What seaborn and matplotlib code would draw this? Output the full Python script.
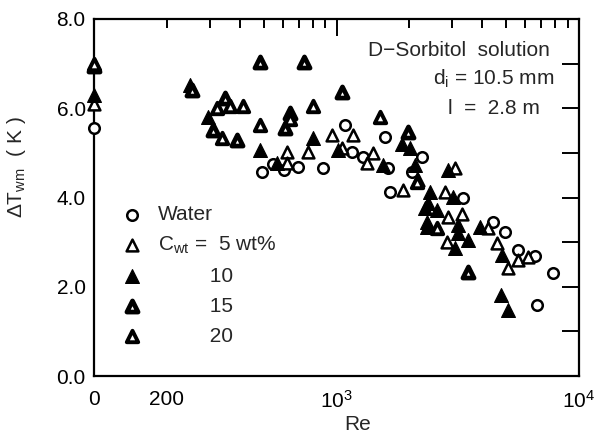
import numpy as np
import pandas as pd
import matplotlib
matplotlib.use("Agg")
import matplotlib.pyplot as plt
import seaborn as sns

# ---------------- data (Re = 0 points are drawn on the left axis edge) ----------------
water_re = [0, 491, 546, 608, 696, 880, 1084, 1155, 1290, 1635, 1585, 2245, 2042, 1662,
            3334, 4406, 4954, 5623, 6590, 7785, 6730]
water_dt = [5.55, 4.58, 4.75, 4.62, 4.69, 4.65, 5.62, 5.03, 4.91, 4.65, 5.36, 4.91, 4.58, 4.13,
            3.98, 3.46, 3.23, 2.82, 2.69, 2.31, 1.59]

c5_re = [0, 627, 765, 623, 955, 1173, 1419, 1333, 2175, 1885, 2800, 2891, 3281, 2846,
         4227, 4578, 5110, 5623, 6180, 3080, 1051]
c5_dt = [6.1, 5.03, 5.03, 4.77, 5.40, 5.40, 4.99, 4.77, 4.39, 4.17, 4.13, 3.57, 3.64, 3.01,
         3.31, 2.97, 2.43, 2.61, 2.67, 4.65, 5.10]

c10_re = [0, 249, 296, 484, 567, 802, 1017, 1857, 2009, 1560, 2430, 3033, 2391, 2317, 2588,
          2355, 2355, 3178, 3178, 3080, 3498, 3908, 4800, 4753, 5110, 2891, 2108]
c10_dt = [6.3, 6.52, 5.81, 5.06, 4.77, 5.33, 5.06, 5.21, 5.10, 4.73, 4.13, 4.02, 3.87, 3.76, 3.72,
          3.46, 3.35, 3.38, 3.20, 2.86, 3.05, 3.35, 2.71, 1.82, 1.48, 4.62, 4.73]

c15_re = [0, 253, 484, 734, 347, 309, 390, 643, 613, 1051, 1977, 3498]
c15_dt = [6.95, 6.41, 7.04, 7.04, 6.22, 5.51, 5.29, 5.89, 5.55, 6.37, 5.47, 2.34]

c20_re = [0, 321, 364, 413, 336, 484, 643, 802, 1511, 2141, 2588]
c20_dt = [7.0, 6.0, 6.05, 6.04, 5.33, 5.63, 5.75, 6.05, 5.81, 4.35, 3.31]

series_labels = ["Water", "C$_{\\rm wt}$ =  5 wt%", "         10", "         15", "         20"]

x_tick_vals = [100, 200, 1000, 10000]
x_tick_labels = ["0", "200", "$10^3$", "$10^4$"]
y_major = [0, 2, 4, 6, 8]
y_major_labels = ["0.0", "2.0", "4.0", "6.0", "8.0"]
y_minor = [1, 3, 5, 7]

RE_ZERO_POS = 100  # where Re = 0 is drawn (left edge of the log axis)

# ---------------- style ----------------
sns.set_style("white")
plt.rcParams["font.family"] = ["Liberation Sans", "DejaVu Sans"]
plt.rcParams["mathtext.fontset"] = "custom"
plt.rcParams["mathtext.rm"] = "Liberation Sans"
plt.rcParams["mathtext.it"] = "Liberation Sans:italic"
plt.rcParams["font.size"] = 15

fig = plt.figure(figsize=(5.95, 4.42), dpi=100)
ax = fig.add_axes([94 / 595, 1 - 376 / 442, (579 - 94) / 595, (376 - 19) / 442])

def prep(re, dt):
    re = np.asarray(re, float)
    return pd.DataFrame({"Re": np.where(re == 0, RE_ZERO_POS, re), "dT": dt})

common = dict(ax=ax, x="Re", y="dT", clip_on=False, zorder=3, legend=False)
sns.scatterplot(data=prep(water_re, water_dt), marker="o", s=58, facecolor="white",
                edgecolor="black", linewidth=1.8, label=series_labels[0], **common)
sns.scatterplot(data=prep(c5_re, c5_dt), marker="^", s=72, facecolor="white",
                edgecolor="black", linewidth=1.8, label=series_labels[1], **common)
sns.scatterplot(data=prep(c10_re, c10_dt), marker="^", s=100, facecolor="black",
                edgecolor="black", linewidth=0.8, label=series_labels[2], **common)
sns.scatterplot(data=prep(c15_re, c15_dt), marker="^", s=64, facecolor="white",
                edgecolor="black", linewidth=3.4, label=series_labels[3], **common)
sns.scatterplot(data=prep(c20_re, c20_dt), marker="^", s=68, facecolor="white",
                edgecolor="black", linewidth=2.8, label=series_labels[4], **common)

ax.set_xscale("log")
ax.set_xlim(100, 10000)
ax.set_ylim(0, 8)

# x ticks
ax.set_xticks([1000, 10000])
ax.set_xticklabels(x_tick_labels[2:])
minor_x = [100, 200, 300, 400, 500, 600, 700, 800, 900,
           2000, 3000, 4000, 5000, 6000, 7000, 8000, 9000]
ax.set_xticks(minor_x, minor=True)
ax.set_xticklabels([x_tick_labels[0], x_tick_labels[1]] + [""] * (len(minor_x) - 2), minor=True)

# y ticks
ax.set_yticks(y_major)
ax.set_yticklabels(y_major_labels)
ax.set_yticks(y_minor, minor=True)

ax.tick_params(axis="both", which="both", direction="in", top=True, right=True,
               width=1.4, labelsize=15, colors="black")
ax.tick_params(axis="x", which="major", length=12, pad=10)
ax.tick_params(axis="x", which="minor", length=6.5, pad=10)
ax.tick_params(axis="y", which="both", length=12, pad=6)

for sp in ax.spines.values():
    sp.set_linewidth(1.6)
    sp.set_color("black")

ax.set_xlabel("Re", fontsize=15)
ax.set_ylabel("ΔT$_{\\rm wm}$  ( K )", fontsize=15)
ax.xaxis.set_label_coords(0.544, -0.108)
ax.yaxis.set_label_coords(-0.136, 0.585)

# annotation
ax.text(0.565, 0.912, "D\u2212Sorbitol  solution", transform=ax.transAxes, ha="left", va="center", fontsize=15)
ax.text(0.699, 0.832, "d$_{\\rm i}$ = 10.5 mm", transform=ax.transAxes, ha="left", va="center", fontsize=15)
ax.text(0.730, 0.750, "l  =  2.8 m", transform=ax.transAxes, ha="left", va="center", fontsize=15)

handles, labels = ax.get_legend_handles_labels()
leg = ax.legend(handles, labels, loc="upper left", bbox_to_anchor=((121.6 - 94) / 485, (376 - 205) / 357),
                frameon=False, borderpad=0, borderaxespad=0, handlelength=1.0, handletextpad=0.75,
                labelspacing=0.52, fontsize=15, scatterpoints=1)

fig.savefig("out.png", dpi=100)
